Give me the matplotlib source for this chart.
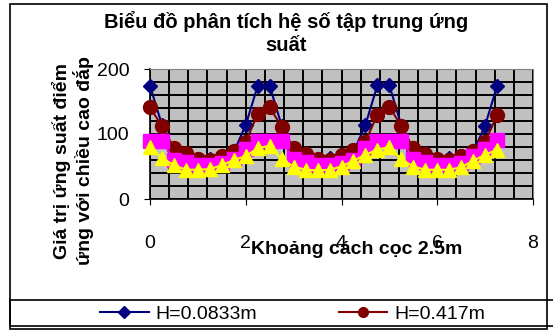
import matplotlib
matplotlib.use('Agg')
import matplotlib.pyplot as plt
from matplotlib.ticker import MultipleLocator
from matplotlib.patches import Rectangle
from matplotlib.lines import Line2D

# khoảng cách (m)
x = [0, 0.25, 0.5, 0.75, 1.0, 1.25, 1.5, 1.75, 2.0, 2.25,
     2.5, 2.75, 3.0, 3.25, 3.5, 3.75, 4.0, 4.25, 4.5, 4.75,
     5.0, 5.25, 5.5, 5.75, 6.0, 6.25, 6.5, 6.75, 7.0, 7.25]

h_0833 = [174, 114, 75, 62, 60, 61, 63, 72, 114, 174,
          174, 113, 75, 62, 60, 63, 63, 72, 114, 175,
          175, 113, 75, 62, 60, 63, 63, 72, 113, 174]
h_417 = [141, 112, 78, 71, 61, 60, 66, 74, 88, 131,
         141, 111, 78, 70, 61, 60, 68, 75, 88, 130,
         142, 112, 78, 70, 61, 60, 66, 74, 88, 129]
h_pink = [90, 90, 60, 57, 52, 52, 55, 62, 77, 90,
          90, 90, 62, 57, 52, 52, 55, 60, 78, 90,
          90, 90, 62, 57, 52, 52, 55, 66, 77, 91]
h_yellow = [80, 63, 52, 45, 45, 46, 52, 60, 66, 78,
            82, 61, 50, 45, 44, 45, 50, 59, 68, 76,
            80, 61, 50, 45, 45, 45, 49, 59, 68, 76]

labels = ['H=0.0833m', 'H=0.417m']

plt.rcParams['font.family'] = ['Liberation Sans', 'DejaVu Sans']

W, H = 553, 331
fig = plt.figure(figsize=(W / 100, H / 100), dpi=100)

def fx(px):
    return px / W

def fy(py):
    return 1 - py / H

# khung ngoài + khung chú thích
fig.patches.append(Rectangle((fx(10), fy(329)), fx(547) - fx(10), fy(4) - fy(329),
                             transform=fig.transFigure, fill=False, ec='black', lw=1.2))
fig.patches.append(Rectangle((fx(10), fy(326)), fx(600) - fx(10), fy(300) - fy(326),
                             transform=fig.transFigure, fill=False, ec='black', lw=1.2))

ax = fig.add_axes([fx(150), fy(199), fx(533) - fx(150), fy(69) - fy(199)])
ax.set_facecolor('#C0C0C0')
ax.set_xlim(0, 8)
ax.set_ylim(0, 200)
ax.set_xticks([0, 2, 4, 6, 8])
ax.set_yticks([0, 100, 200])
ax.xaxis.set_minor_locator(MultipleLocator(0.4))
ax.yaxis.set_minor_locator(MultipleLocator(20))
ax.grid(which='both', color='black', lw=1.4, zorder=0)
ax.set_axisbelow(True)
ax.tick_params(which='minor', length=0)
ax.tick_params(axis='x', which='major', direction='out', length=4, pad=22, labelsize=14)
ax.tick_params(axis='y', which='major', direction='out', length=4, pad=11, labelsize=14)
for s in ['top', 'right']:
    ax.spines[s].set_color('#808080')
for s in ['left', 'bottom']:
    ax.spines[s].set_color('black')
    ax.spines[s].set_linewidth(1.2)

ax.plot(x, h_0833, color='#000080', marker='D', ms=7, lw=1.5, zorder=3, clip_on=False)
ax.plot(x, h_417, color='#800000', marker='o', ms=10, lw=1.5, zorder=4, clip_on=False)
ax.plot(x, h_pink, color='#FF00FF', marker='s', ms=10, lw=1.5, zorder=5, clip_on=False)
ax.plot(x, h_yellow, color='#FFFF00', marker='^', ms=10, lw=1.5, zorder=6, clip_on=False)

fig.text(fx(286), fy(33), 'Biểu đồ phân tích hệ số tập trung ứng\nsuất',
         ha='center', va='center', fontsize=14.5, fontweight='bold', linespacing=1.3)
fig.text(fx(73), fy(161), 'Giá trị ứng suất điểm\nứng với chiều cao đắp',
         ha='center', va='center', rotation=90, fontsize=14, fontweight='bold',
         linespacing=1.1)
fig.text(fx(357), fy(249), 'Khoảng cách cọc 2.5m', ha='center', va='center',
         fontsize=14, fontweight='bold')

h1 = Line2D([], [], color='#000080', marker='D', ms=6, lw=1.5)
h2 = Line2D([], [], color='#800000', marker='o', ms=7, lw=1.5)
fig.legend(handles=[h1, h2], labels=labels, ncol=2, loc='center left',
           bbox_to_anchor=(fx(100), fy(314)), frameon=False, fontsize=14,
           borderpad=0, borderaxespad=0, handlelength=2.5, handletextpad=0.35,
           columnspacing=4.2, numpoints=1)

fig.savefig('out.png', dpi=100)
